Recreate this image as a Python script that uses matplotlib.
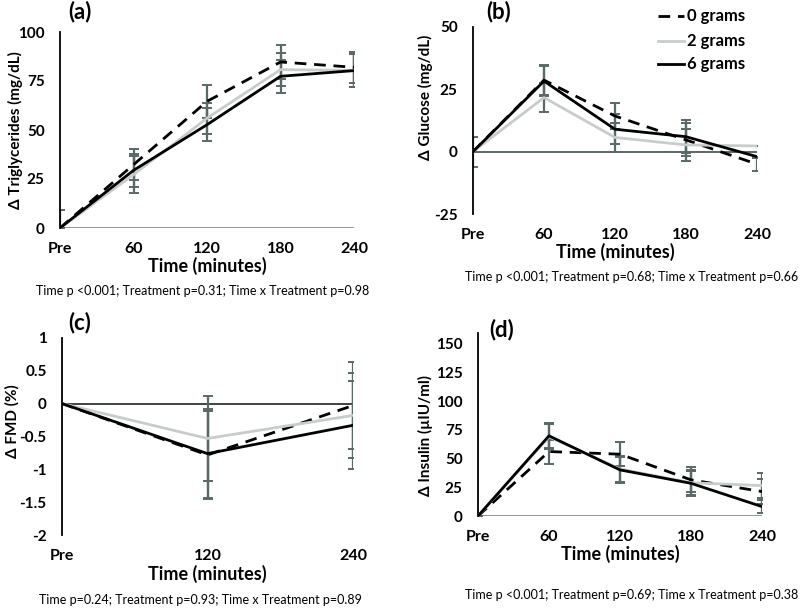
import matplotlib
matplotlib.use("Agg")
import matplotlib.pyplot as plt
import numpy as np

plt.rcParams['font.family'] = ['Lato', 'DejaVu Sans']

series_names = ["0 grams", "2 grams", "6 grams"]

# (a) Triglycerides
a_labels = ["Pre", "60", "120", "180", "240"]
a_0g = [0, 32.3, 64.6, 84.7, 82.0]
a_2g = [0, 27.2, 56.0, 80.8, 80.4]
a_6g = [0, 29.4, 52.7, 77.4, 80.3]
a_0g_err = [9, 8, 8.5, 8.5, 8]
a_2g_err = [0, 9.5, 8, 8.5, 8.5]
a_6g_err = [0, 8.5, 8.5, 8.5, 8.5]

# (b) Glucose
b_labels = ["Pre", "60", "120", "180", "240"]
b_0g = [0, 28.7, 14.3, 4.7, -5.0]
b_2g = [0, 21.7, 5.7, 2.7, 2.3]
b_6g = [0, 28.3, 9.0, 6.0, -2.0]
b_0g_err = [6, 6, 5.4, 6.6, 2.6]
b_2g_err = [0, 5.7, 5.7, 6.5, 0]
b_6g_err = [0, 6, 6, 6.5, 0]

# (c) FMD
c_labels = ["Pre", "120", "240"]
c_0g = [0, -0.78, -0.03]
c_2g = [0, -0.53, -0.18]
c_6g = [0, -0.76, -0.33]
c_0g_err = [0, 0.67, 0.66]
c_2g_err = [0, 0.65, 0.65]
c_6g_err = [0, 0.68, 0.67]

# (d) Insulin
d_labels = ["Pre", "60", "120", "180", "240"]
d_0g = [0, 56.2, 53.9, 31.5, 21.3]
d_2g = [0, 69.0, 41.0, 29.0, 26.5]
d_6g = [0, 69.9, 40.2, 28.5, 8.2]
d_0g_err = [0, 10.5, 10.5, 11, 10.7]
d_2g_err = [0, 11, 11, 11, 11]
d_6g_err = [0, 11, 11, 11, 6]

y_titles = ["Δ Triglycerides (mg/dL)", "Δ Glucose (mg/dL)", "Δ FMD (%)", "Δ Insulin (µIU/ml)"]
captions = [
    "Time p <0.001; Treatment p=0.31; Time x Treatment p=0.98",
    "Time p <0.001; Treatment p=0.68; Time x Treatment p=0.66",
    "Time p=0.24; Treatment p=0.93; Time x Treatment p=0.89",
    "Time p <0.001; Treatment p=0.69; Time x Treatment p=0.38",
]

W, H = 805, 608
fig = plt.figure(figsize=(W / 100, H / 100), dpi=100)

def px_axes(left, right, top, bottom):
    return fig.add_axes([left / W, 1 - bottom / H, (right - left) / W, (bottom - top) / H])

ERR_C = "#5b6868"
GRAY_C = "#c9cccc"
styles = [
    dict(color="black", ls=(0, (4.2, 2.8)), lw=2.0),
    dict(color=GRAY_C, ls="-", lw=2.0),
    dict(color="black", ls="-", lw=2.0),
]

def draw(ax, labels, ys, errs, ylim, yticks, zero_color):
    x = np.arange(len(labels))
    for y, e, st in zip(ys, errs, styles):
        ax.errorbar(x, y, yerr=e, fmt="none", ecolor=ERR_C, elinewidth=1.6,
                    capsize=3.5, capthick=1.4, zorder=2)
    for y, st in zip(ys, styles):
        ax.plot(x, y, zorder=3, **st)
    ax.axhline(0, color=zero_color, lw=1.3, zorder=1)
    ax.set_xlim(0, len(labels) - 1)
    ax.set_ylim(*ylim)
    ax.set_yticks(yticks)
    ax.set_yticklabels([f"{t:g}" for t in yticks], fontweight="bold", fontsize=11)
    ax.set_xticks(x)
    ax.set_xticklabels(labels, fontweight="bold", fontsize=11.5)
    ax.tick_params(axis="x", length=0, pad=10)
    ax.tick_params(axis="y", length=0, pad=11)
    for s in ["top", "right", "bottom"]:
        ax.spines[s].set_visible(False)
    ax.spines["left"].set_linewidth(1.3)
    ax.spines["left"].set_color("black")
    ax.set_facecolor("none")
    ax.set_xlabel("Time (minutes)", fontweight="bold", fontsize=13, labelpad=1)

ax_a = px_axes(60, 354, 32, 228)
draw(ax_a, a_labels, [a_0g, a_2g, a_6g], [a_0g_err, a_2g_err, a_6g_err],
     (0, 100), [0, 25, 50, 75, 100], "#8c8c8c")

ax_b = px_axes(473, 757, 27, 214)
draw(ax_b, b_labels, [b_0g, b_2g, b_6g], [b_0g_err, b_2g_err, b_6g_err],
     (-25, 50), [-25, 0, 25, 50], "#4e5c5c")

ax_c = px_axes(62, 353, 337.7, 535.3)
draw(ax_c, c_labels, [c_0g, c_2g, c_6g], [c_0g_err, c_2g_err, c_6g_err],
     (-2, 1), [-2, -1.5, -1, -0.5, 0, 0.5, 1], "#333333")

ax_d = px_axes(478, 762, 332.5, 516)
draw(ax_d, d_labels, [d_0g, d_2g, d_6g], [d_0g_err, d_2g_err, d_6g_err],
     (0, 160), [0, 25, 50, 75, 100, 125, 150], "#8c8c8c")

# y-axis titles
for (px, py), t in zip([(15, 130), (425, 97), (12, 421), (425, 435)], y_titles):
    fig.text(px / W, 1 - py / H, t, fontweight="bold", fontsize=11, rotation=90,
             ha="center", va="center")

# panel letters
for (px, py, t) in [(80, 12, "(a)"), (499, 12, "(b)"), (80, 323, "(c)"), (502, 330, "(d)")]:
    fig.text(px / W, 1 - py / H, t, fontweight="bold", fontsize=16, ha="center", va="center")

# captions
for (px, py), t in zip([(203, 291), (632, 277), (200, 600), (632, 595)], captions):
    fig.text(px / W, 1 - py / H, t, fontsize=9, ha="center", va="center")

# legend in panel (b)
leg_y = [16, 41, 64]
for yy, name, st in zip(leg_y, series_names, styles):
    fig.add_artist(plt.Line2D([658 / W, 684 / W], [1 - yy / H, 1 - yy / H],
                              transform=fig.transFigure, **st))
    fig.text(687 / W, 1 - yy / H, name, fontweight="bold", fontsize=12,
             ha="left", va="center")

fig.savefig("out.png", dpi=100)
